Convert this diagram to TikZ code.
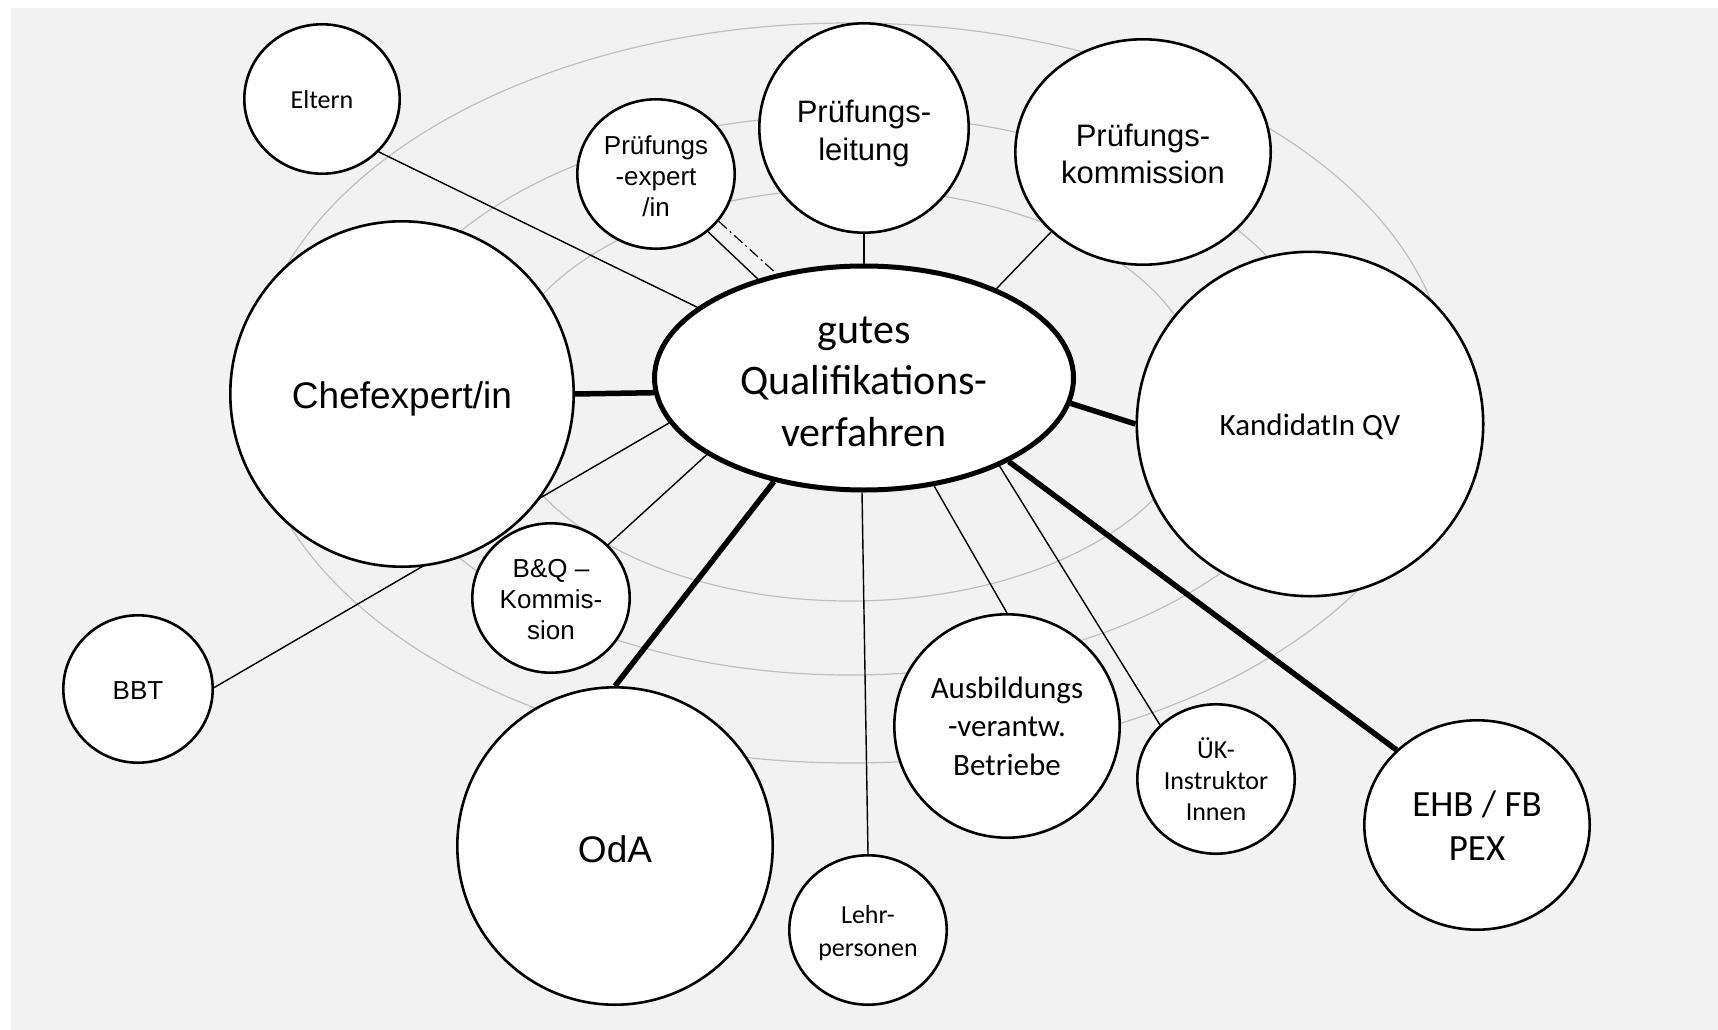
\documentclass[tikz,border=0pt]{standalone}
\usepackage{fontspec}
\newfontfamily\arialf{Liberation Sans}
\newfontfamily\calf{Carlito}
\usetikzlibrary{shapes.geometric}
\pgfdeclarelayer{bg}
\pgfdeclarelayer{edges}
\pgfsetlayers{bg,edges,main}
\definecolor{bggray}{HTML}{F2F2F2}
\definecolor{ringgray}{HTML}{BFBFBF}
\newcommand{\fsx}[2]{\fontsize{#1}{#2\dimexpr#1pt\relax}\selectfont}
% lower the visible text by #1 pt without changing the box used for centring
\newcommand{\tb}[2]{\raisebox{-#1pt}[\height][\depth]{\begin{tabular}{@{}c@{}}#2\end{tabular}}}
\begin{document}
\begin{tikzpicture}[x=1pt,y=-1pt,
  bubble/.style={ellipse, draw=black, line width=2.6pt, fill=white, inner sep=0pt, text=black},
  hub/.style={bubble, line width=5pt},
  ar/.style={font=\arialf\fsx{#1}{1.2}},
  ca/.style={font=\calf\fsx{#1}{1.2}},
  cax/.style 2 args={font=\calf\fsx{#1}{#2}},
  thinlink/.style={line width=1.4pt, draw=black},
  thicklink/.style={line width=5.5pt, draw=black},
  dashlink/.style={line width=1.2pt, draw=black, dash pattern=on 11pt off 4pt on 2pt off 4pt},
  ring/.style={draw=ringgray, line width=1.2pt},
]
\useasboundingbox (0,0) rectangle (1718,1030);

% nodes
\node[hub, cax={42}{1.23}, minimum width=419pt, minimum height=224pt] (hub) at (864,378)
  {\tb{6.5}{gutes\\Qualifikations-\\verfahren}};
\node[bubble, ca=26, minimum width=155.4pt, minimum height=149.4pt] (eltern) at (322,99)
  {\tb{3}{Eltern}};
\node[bubble, ar=26, minimum width=157.4pt, minimum height=149.4pt] (expert) at (656,174)
  {\tb{5}{Prüfungs\\-expert\\/in}};
\node[bubble, ar=31, minimum width=209.4pt, minimum height=209.4pt] (leitung) at (864,128)
  {\tb{6}{Prüfungs-\\leitung}};
\node[bubble, ar=31, minimum width=255.4pt, minimum height=225.4pt] (kommission) at (1143,152)
  {\tb{5.5}{Prüfungs-\\kommission}};
\node[bubble, ar=37, minimum width=343.4pt, minimum height=345.4pt] (chef) at (402,394)
  {\tb{5.5}{Chefexpert/in}};
\node[bubble, ca=31, minimum width=346.4pt, minimum height=344.4pt] (kandidat) at (1310,424)
  {\tb{4}{KandidatIn QV}};
\node[bubble, ar=26, minimum width=157.4pt, minimum height=149.4pt] (bq) at (551,598)
  {\tb{4}{B\&Q –\\Kommis-\\sion}};
\node[bubble, ar=26, minimum width=149.4pt, minimum height=147.4pt] (bbt) at (138,689)
  {\tb{4}{BBT}};
\node[bubble, ar=37, minimum width=315.4pt, minimum height=317.4pt] (oda) at (615,846)
  {\tb{7.5}{OdA}};
\node[bubble, cax={26}{1.27}, minimum width=157.4pt, minimum height=149.4pt] (lehr) at (868,930)
  {\tb{3}{Lehr-\\personen}};
\node[bubble, cax={31}{1.25}, minimum width=225.4pt, minimum height=223.4pt] (ausb) at (1007,726)
  {\tb{3}{Ausbildungs\\-verantw.\\Betriebe}};
\node[bubble, ca=26, minimum width=157.4pt, minimum height=149.4pt] (uek) at (1216,779)
  {\tb{4.5}{ÜK-\\Instruktor\\Innen}};
\node[bubble, ca=37, minimum width=225.4pt, minimum height=209.4pt] (ehb) at (1477,825)
  {\tb{4.5}{EHB / FB\\PEX}};

% background and rings
\begin{pgfonlayer}{bg}
  \fill[white] (0,0) rectangle (1718,1030);
  \fill[bggray] (11,8) rectangle (1718,1030);
  \draw[ring] (850,393) ellipse [x radius=600pt, y radius=370pt];
  \draw[ring] (850,395) ellipse [x radius=480pt, y radius=280pt];
  \draw[ring] (850,395) ellipse [x radius=352pt, y radius=206pt];
\end{pgfonlayer}

% connectors
\begin{pgfonlayer}{edges}
  \draw[thinlink] (eltern.-43) -- (hub.157);
  \draw[thinlink] (expert.-48) -- (hub.137);
  \draw[dashlink] (expert.-37) -- (hub.130);
  \draw[thinlink] (leitung.-90) -- (hub.90);
  \draw[thinlink] (kommission.-139) -- (hub.34);
  \draw[thicklink] (chef.0) -- (hub.184);
  \draw[thicklink] (hub.-7) -- (kandidat.180);
  \draw[thinlink] (bbt.1) -- (hub.193);
  \draw[thinlink] (bq.43) -- (hub.206);
  \draw[thicklink] (oda.90) -- (hub.229);
  \draw[thinlink] (lehr.90) -- (hub.-91.5);
  \draw[thinlink] (ausb.90) -- (hub.-57.5);
  \draw[thinlink] (uek.136) -- (hub.-33);
  \draw[thicklink] (ehb.137) -- (hub.-30);
\end{pgfonlayer}
\end{tikzpicture}
\end{document}
